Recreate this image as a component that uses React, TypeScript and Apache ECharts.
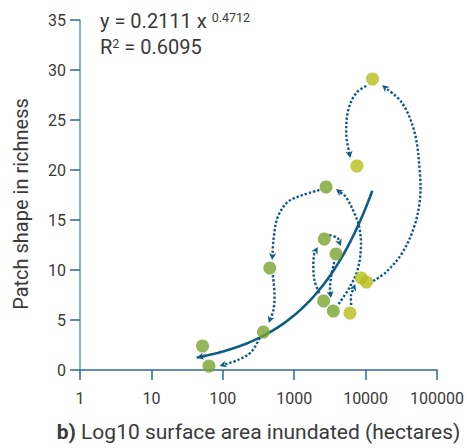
import React, { useEffect, useRef } from 'react';
import * as echarts from 'echarts';

// Surface area inundated (hectares) and patch shape richness, in sequence order
const areaHectares = [52, 64, 371, 455, 2790, 2640, 3850, 2580, 3530, 6030, 8700, 10300, 7550, 12500];
const patchRichness = [2.4, 0.4, 3.8, 10.2, 18.3, 13.1, 11.6, 6.9, 5.9, 5.7, 9.2, 8.8, 20.4, 29.1];
const pointGroup = ['early', 'early', 'early', 'early', 'early', 'early', 'early', 'early', 'early', 'late', 'late', 'late', 'late', 'late'];

const xTickLabels = ['1', '10', '100', '1000', '10000', '100000'];

// Fitted power curve y = a x^b
const fitA = 0.2111;
const fitB = 0.4712;
const fitR2 = '0.6095';
const fitFrom = 43;
const fitTo = 12400;

// Dotted arrows (waypoints in data units: hectares, richness)
const arrowPaths: number[][][] = [
  [[10190, 28.4], [7390, 27.7], [5710, 26.0], [5360, 23.5], [6090, 21.2]],
  [[12770, 8.9], [19400, 9.8], [32500, 11.7], [47700, 14.3], [57500, 17.0], [57500, 19.7], [48700, 23.7], [32500, 26.7], [17060, 28.5]],
  [[6290, 6.5], [6250, 7.5], [7160, 8.6]],
  [[4180, 6.6], [5900, 8.2], [7710, 10.0], [8600, 12.3], [8140, 14.3], [6930, 15.7], [5310, 17.3], [3850, 18.1]],
  [[2250, 18.0], [1315, 17.5], [811, 16.8], [589, 15.3], [517, 13.3], [491, 11.0]],
  [[501, 9.5], [529, 7.7], [512, 6.0], [441, 4.7]],
  [[327, 3.2], [250, 1.8], [163, 1.0], [90, 0.4]],
  [[3100, 13.5], [4050, 13.2], [4520, 12.4]],
  [[3640, 10.8], [3270, 9.3], [3170, 8.0], [3270, 7.2]],
  [[2250, 7.7], [1916, 9.0], [1854, 10.7], [1916, 11.7], [2130, 12.3]],
];

const GREEN = '#79a42e';
const YELLOW = '#b7bd1c';
const BLUE = '#0f5b88';
const TEXT = '#3a3a3a';
const FONT = 'Roboto';

function arrowShapes(pts: number[][], color: string, dashed: boolean, width: number) {
  const n = pts.length;
  const tip = pts[n - 1];
  const prev = pts[n - 2];
  const dx = tip[0] - prev[0];
  const dy = tip[1] - prev[1];
  const len = Math.hypot(dx, dy) || 1;
  const ux = dx / len;
  const uy = dy / len;
  const nx = -uy;
  const ny = ux;
  const L = 7;
  const W = 3.6;
  const base = [tip[0] - ux * L, tip[1] - uy * L];
  const notch = [tip[0] - ux * L * 0.7, tip[1] - uy * L * 0.7];
  const linePts = pts.slice(0, n - 1).concat([notch]);
  return [
    {
      type: 'polyline',
      shape: { points: linePts, smooth: 0.35 },
      style: {
        stroke: color,
        lineWidth: width,
        fill: null,
        lineDash: dashed ? [2.4, 1.9] : null,
      },
    },
    {
      type: 'polygon',
      shape: {
        points: [
          tip,
          [base[0] + nx * W, base[1] + ny * W],
          notch,
          [base[0] - nx * W, base[1] - ny * W],
        ],
      },
      style: { fill: color },
    },
  ];
}

export default function App() {
  const ref = useRef<HTMLDivElement>(null);

  useEffect(() => {
    document.body.style.margin = '0';
    if (!ref.current) return;
    const chart = echarts.init(ref.current, undefined, { renderer: 'svg' });

    const fitCurve: number[][] = [];
    const steps = 80;
    const l0 = Math.log10(fitFrom);
    const l1 = Math.log10(fitTo);
    for (let i = 0; i <= steps; i++) {
      const x = Math.pow(10, l0 + ((l1 - l0) * i) / steps);
      fitCurve.push([x, fitA * Math.pow(x, fitB)]);
    }

    const option: any = {
      animation: false,
      grid: { left: 80, right: 29, top: 20, bottom: 78 },
      xAxis: {
        type: 'log',
        logBase: 10,
        min: 1,
        max: 100000,
        name: '{b|b)} Log10 surface area inundated (hectares)',
        nameLocation: 'middle',
        nameGap: 51,
        nameTextStyle: {
          fontFamily: FONT,
          fontSize: 21,
          color: TEXT,
          rich: {
            b: { fontFamily: FONT, fontSize: 21, fontWeight: 'bold', color: TEXT },
          },
        },
        axisLine: { show: true, lineStyle: { color: '#2b6a95', width: 1.5 } },
        axisTick: { show: true, length: 10, lineStyle: { color: '#2b6a95', width: 1.5 } },
        minorTick: { show: false },
        splitLine: { show: false },
        axisLabel: {
          fontFamily: FONT,
          fontSize: 16,
          color: TEXT,
          margin: 20,
          formatter: (v: number) => xTickLabels[Math.round(Math.log10(v))] ?? '',
        },
      },
      yAxis: {
        type: 'value',
        min: 0,
        max: 35,
        interval: 5,
        name: 'Patch shape in richness',
        nameLocation: 'middle',
        nameGap: 49,
        nameTextStyle: { fontFamily: FONT, fontSize: 20, color: TEXT, padding: [0, 18, 0, 0] },
        axisLine: { show: true, lineStyle: { color: '#5b98c0', width: 1.5 } },
        axisTick: { show: true, length: 10, lineStyle: { color: '#2b6a95', width: 1.5 } },
        splitLine: { show: false },
        axisLabel: { fontFamily: FONT, fontSize: 16, color: TEXT, margin: 14 },
      },
      graphic: [
        {
          type: 'text',
          left: 100,
          top: 11,
          style: {
            text: '{m|y = ' + fitA + ' x }{s|' + fitB + '}',
            rich: {
              m: { fontFamily: FONT, fontSize: 20, fill: TEXT, color: TEXT },
              s: { fontFamily: FONT, fontSize: 12.5, fill: TEXT, color: TEXT, verticalAlign: 'top' },
            },
          },
        },
        {
          type: 'text',
          left: 100,
          top: 37,
          style: {
            text: '{m|R}{s|2}{m| = ' + fitR2 + '}',
            rich: {
              m: { fontFamily: FONT, fontSize: 20, fill: TEXT, color: TEXT },
              s: { fontFamily: FONT, fontSize: 12.5, fill: TEXT, color: TEXT, verticalAlign: 'top' },
            },
          },
        },
      ],
      series: [
        {
          type: 'line',
          data: fitCurve,
          showSymbol: false,
          smooth: true,
          lineStyle: { color: BLUE, width: 2.6 },
          z: 2,
          silent: true,
        },
        {
          type: 'custom',
          coordinateSystem: 'cartesian2d',
          data: [fitCurve[0]],
          encode: { x: 0, y: 1 },
          z: 3,
          renderItem: (params: any, api: any) => {
            const pts = [api.coord(fitCurve[4]), api.coord(fitCurve[0])];
            return { type: 'group', children: arrowShapes(pts, BLUE, false, 2.6) };
          },
        },
        {
          type: 'custom',
          coordinateSystem: 'cartesian2d',
          data: arrowPaths.map((p) => p[0]),
          encode: { x: 0, y: 1 },
          z: 3,
          renderItem: (params: any, api: any) => {
            const path = arrowPaths[params.dataIndex];
            const pts = path.map((p) => api.coord(p));
            return { type: 'group', children: arrowShapes(pts, BLUE, true, 2.4) };
          },
        },
        {
          type: 'scatter',
          symbolSize: 13,
          z: 5,
          data: areaHectares.map((x, i) => ({
            value: [x, patchRichness[i]],
            itemStyle: { color: pointGroup[i] === 'late' ? YELLOW : GREEN },
          })),
        },
      ],
    };

    chart.setOption(option);
    return () => chart.dispose();
  }, []);

  return <div ref={ref} style={{ width: 467, height: 448 }} />;
}
